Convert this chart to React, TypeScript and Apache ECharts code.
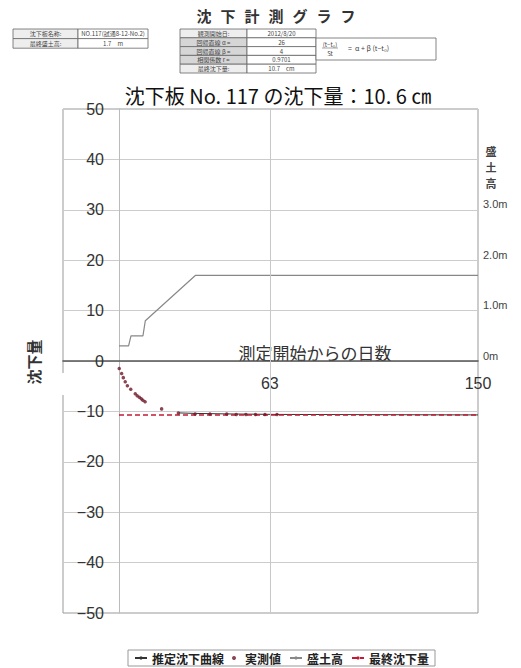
import React, { useEffect, useRef } from "react";
import * as echarts from "echarts";

// ---- data ----
const measuredDays = [0.1, 1.1, 1.8, 2.6, 3.5, 4.9, 6.8, 7.6, 8.5, 9.3, 10.0, 10.9, 17.8, 24.8, 31.8, 38, 45, 49, 53, 57, 61, 66];
const measuredValues = [-1.5, -2.5, -3.3, -4.1, -4.9, -5.6, -6.5, -6.9, -7.2, -7.5, -7.8, -8.1, -9.5, -10.3, -10.5, -10.5, -10.5, -10.6, -10.6, -10.6, -10.6, -10.6];
const estDays = [25, 32, 45, 66, 150];
const estValues = [-10.3, -10.4, -10.5, -10.6, -10.7];
const fillDays = [0, 4, 5, 10, 11, 32, 150];
const fillHeights = [0.3, 0.3, 0.5, 0.5, 0.8, 1.7, 1.7];
const finalDays = [0, 150];
const finalValues = [-10.7, -10.7];
const xLabelDays = [63, 150];
const vGridDays = [63];
const rightLabelValues = [0, 1, 2, 3];

const seriesNames = ["推定沈下曲線", "実測値", "盛土高", "最終沈下量"];
const headerTitle = ["沈", "下", "計", "測", "グ", "ラ", "フ"];
const rightAxisName = ["盛", "土", "高"];
const leftTable = [
  ["沈下板名称:", "NO.117(試通8-12-No.2)"],
  ["最終盛土高:", "1.7　m"],
];
const midTable = [
  ["観測開始日:", "2012/8/20"],
  ["回帰直線 α =", "26"],
  ["回帰直線 β =", "4"],
  ["相関係数 r =", "0.9701"],
  ["最終沈下量:", "10.7　cm"],
];
const chartTitle = "沈下板 No. 117 の沈下量：10. 6 ㎝";

const zip = (a: number[], b: number[]) => a.map((v, i) => [v, b[i]]);

const FONT = "'Liberation Sans', 'Noto Sans CJK JP', sans-serif";
const JFONT = "'Noto Sans CJK JP', sans-serif";

export default function App() {
  const ref = useRef<HTMLDivElement>(null);
  useEffect(() => {
    if (!ref.current) return;
    const chart = echarts.init(ref.current, undefined, { renderer: "svg" });

    const graphics: any[] = [];
    headerTitle.forEach((ch, i) => {
      graphics.push({
        type: "text", x: 204 + i * 24, y: 15,
        style: { text: ch, font: `bold 15px ${JFONT}`, fill: "#333", align: "center", verticalAlign: "middle" },
      });
    });
    const lt = { x: 13, w1: 65, w2: 70, top: 29, rh: 9.6 };
    leftTable.forEach((row, r) => {
      const y = lt.top + r * lt.rh;
      graphics.push({ type: "rect", shape: { x: lt.x, y, width: lt.w1, height: lt.rh }, style: { fill: "#eee", stroke: "#666", lineWidth: 0.8 } });
      graphics.push({ type: "rect", shape: { x: lt.x + lt.w1, y, width: lt.w2, height: lt.rh }, style: { fill: "#fff", stroke: "#666", lineWidth: 0.8 } });
      graphics.push({ type: "text", x: lt.x + lt.w1 / 2, y: y + lt.rh / 2, style: { text: row[0], font: `6px ${JFONT}`, fill: "#444", align: "center", verticalAlign: "middle" } });
      graphics.push({ type: "text", x: lt.x + lt.w1 + lt.w2 / 2, y: y + lt.rh / 2, style: { text: row[1], font: `6px ${JFONT}`, fill: "#444", align: "center", verticalAlign: "middle" } });
    });
    const mt = { x: 180, w1: 67, w2: 69, top: 29, rh: 8.8 };
    midTable.forEach((row, r) => {
      const y = mt.top + r * mt.rh;
      const shade = r >= 1 && r <= 3 ? "#d6d6d6" : "#eee";
      graphics.push({ type: "rect", shape: { x: mt.x, y, width: mt.w1, height: mt.rh }, style: { fill: shade, stroke: "#666", lineWidth: 0.8 } });
      graphics.push({ type: "rect", shape: { x: mt.x + mt.w1, y, width: mt.w2, height: mt.rh }, style: { fill: "#fff", stroke: "#666", lineWidth: 0.8 } });
      graphics.push({ type: "text", x: mt.x + mt.w1 / 2, y: y + mt.rh / 2, style: { text: row[0], font: `6px ${JFONT}`, fill: "#444", align: "center", verticalAlign: "middle" } });
      graphics.push({ type: "text", x: mt.x + mt.w1 + mt.w2 / 2, y: y + mt.rh / 2, style: { text: row[1], font: `6px ${JFONT}`, fill: "#444", align: "center", verticalAlign: "middle" } });
    });
    graphics.push({ type: "rect", shape: { x: 316, y: 38, width: 120, height: 22 }, style: { fill: "#fff", stroke: "#666", lineWidth: 0.8 } });
    graphics.push({ type: "text", x: 330, y: 44, style: { text: "(t−t₀)", font: `6px ${JFONT}`, fill: "#444", align: "center", verticalAlign: "middle" } });
    graphics.push({ type: "line", shape: { x1: 322, y1: 48, x2: 338, y2: 48 }, style: { stroke: "#666", lineWidth: 0.6 } });
    graphics.push({ type: "text", x: 330, y: 53, style: { text: "St", font: `6px ${JFONT}`, fill: "#444", align: "center", verticalAlign: "middle" } });
    graphics.push({ type: "text", x: 348, y: 48, style: { text: "=  α + β (t−t₀)", font: `7px ${JFONT}`, fill: "#444", align: "left", verticalAlign: "middle" } });
    graphics.push({ type: "text", x: 278, y: 95, style: { text: chartTitle, font: `20px ${JFONT}`, fill: "#111", align: "center", verticalAlign: "middle" } });
    graphics.push({ type: "text", x: 315, y: 352, style: { text: "測定開始からの日数", font: `17px ${JFONT}`, fill: "#333", align: "center", verticalAlign: "middle" } });
    graphics.push({ type: "text", x: 33, y: 362, rotation: Math.PI / 2, style: { text: "沈下量", font: `bold 15px ${JFONT}`, fill: "#333", align: "center", verticalAlign: "middle" } });
    rightAxisName.forEach((ch, i) => {
      graphics.push({ type: "text", x: 491, y: 151 + i * 16, style: { text: ch, font: `bold 11px ${JFONT}`, fill: "#444", align: "center", verticalAlign: "middle" } });
    });
    graphics.push({ type: "rect", z: 100, shape: { x: 60, y: 373, width: 6, height: 22 }, style: { fill: "#fff" } });

    const option: any = {
      animation: false,
      backgroundColor: "#fff",
      grid: { left: 63, right: 43, top: 109, bottom: 55, show: true, borderColor: "#999", borderWidth: 1, containLabel: false },
      legend: {
        top: 650, left: 128,
        data: [
          { name: seriesNames[0], icon: "inherit" },
          { name: seriesNames[1], icon: "circle" },
          { name: seriesNames[2], icon: "inherit" },
          { name: seriesNames[3], icon: "inherit" },
        ],
        itemWidth: 12, itemHeight: 4, itemGap: 8,
        padding: [2, 6],
        borderColor: "#999", borderWidth: 1,
        textStyle: { fontSize: 12, fontWeight: "bold", color: "#222", fontFamily: JFONT },
      },
      xAxis: {
        type: "value", min: -23.4, max: 150, position: "bottom", offset: -252,
        axisLine: { onZero: false, lineStyle: { color: "#555", width: 1.5 } },
        axisTick: { show: false },
        splitLine: { show: false },
        axisLabel: { customValues: xLabelDays, margin: 14, fontSize: 16, color: "#333", fontFamily: FONT, showMinLabel: true, showMaxLabel: true },
      },
      yAxis: [
        {
          type: "value", min: -50, max: 50, interval: 10, position: "left", offset: -56,
          axisLine: { show: true, onZero: false, lineStyle: { color: "#bbb", width: 1 } },
          axisTick: { show: false },
          splitLine: { show: true, lineStyle: { color: "#ccc", width: 1 } },
          axisLabel: { margin: 15, fontSize: 16, color: "#333", fontFamily: FONT, formatter: (v: number) => String(v).replace("-", "−") },
        },
        {
          type: "value", min: -5, max: 5, interval: 1, position: "right",
          axisLine: { show: false, onZero: false },
          axisTick: { show: false },
          splitLine: { show: false },
          axisLabel: {
            margin: 5, fontSize: 11, color: "#444", fontFamily: FONT, verticalAlign: "bottom",
            formatter: (v: number) => (rightLabelValues.includes(v) ? (v === 0 ? "0m" : v.toFixed(1) + "m") : ""),
          },
        },
      ],
      series: [
        {
          name: seriesNames[0], type: "line", data: zip(estDays, estValues), symbol: "none", z: 2,
          lineStyle: { color: "#333", width: 1 }, itemStyle: { color: "#333" },
        },
        {
          name: seriesNames[1], type: "scatter", data: zip(measuredDays, measuredValues), symbol: "circle", symbolSize: 3.5, z: 4,
          itemStyle: { color: "#6e1628" },
        },
        {
          name: seriesNames[2], type: "line", yAxisIndex: 1, data: zip(fillDays, fillHeights), symbol: "none", z: 2,
          lineStyle: { color: "#888", width: 1.2 }, itemStyle: { color: "#888" },
          markLine: {
            silent: true, symbol: "none", label: { show: false },
            lineStyle: { color: "#c8c8c8", type: "solid", width: 1 },
            data: vGridDays.map((d) => ({ xAxis: d })),
          },
        },
        {
          name: seriesNames[3], type: "line", data: zip(finalDays, finalValues), symbol: "none", z: 3,
          lineStyle: { color: "#c41a35", width: 1.6, type: [5, 3] }, itemStyle: { color: "#c41a35" },
        },
      ],
      graphic: graphics,
    };
    chart.setOption(option);
    return () => chart.dispose();
  }, []);
  return <div ref={ref} style={{ position: "absolute", left: 0, top: 0, width: 521, height: 668 }} />;
}
